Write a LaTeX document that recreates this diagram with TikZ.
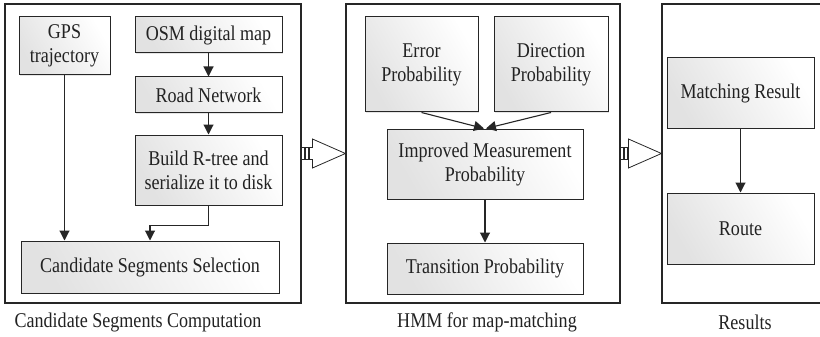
\documentclass[tikz,border=0pt]{standalone}
\usepackage{fontspec}
\setmainfont[FakeStretch=0.86]{Liberation Serif}
\usepackage{xcolor}
\definecolor{mmText}{HTML}{222222}
\definecolor{mmLine}{HTML}{262626}
\definecolor{mmShade}{HTML}{E2E2E2}
\usetikzlibrary{shapes,arrows.meta,positioning,shadows,calc}
\tikzset{
    panel/.style={
        draw=mmLine,
        fill=white,
        rectangle,
        line width=1.1pt,
        drop shadow={opacity=0.2, shadow xshift=1pt, shadow yshift=-1pt}
    },
    stage/.style={
        draw=mmLine,
        rectangle,
        top color=white,
        bottom color=mmShade,
        shading angle=-60,
        align=center,
        inner sep=0pt,
        line width=1pt,
        text=mmText,
        drop shadow={opacity=0.2, shadow xshift=1pt, shadow yshift=-1pt},
        font=\fontsize{21}{24}\selectfont
    },
    arrow/.style={
        -{Triangle[length=10pt,width=10pt]},
        line width=1.1pt,
        color=mmLine
    },
    stripe/.style={
        draw=mmLine,
        fill=white,
        line width=0.8pt
    },
    caption/.style={
        font=\fontsize{21}{24}\selectfont,
        text=mmText
    }
}
\begin{document}
\begin{tikzpicture}[x=1pt, y=-1pt]
    \useasboundingbox (0,0) rectangle (820,337);

    % Panels
    \node[panel, minimum width=296pt, minimum height=299pt] (seg) at (153,153.5) {};
    \node[panel, minimum width=274pt, minimum height=299pt] (hmm) at (483,153.5) {};
    \node[panel, minimum width=166pt, minimum height=299pt] (res) at (745,153.5) {};

    % Candidate segments computation
    \node[stage, minimum width=91pt, minimum height=58pt] (gps) at (64.5,46) {GPS\\trajectory};
    \node[stage, minimum width=147pt, minimum height=36pt] (osm) at (208.5,35) {OSM digital map};
    \node[stage, minimum width=147pt, minimum height=36pt, below=23pt of osm] (road) {Road Network};
    \node[stage, minimum width=147pt, minimum height=70pt, below=21pt of road] (rtree) {Build R-tree and\\serialize it to disk};
    \node[stage, minimum width=258pt, minimum height=52pt] (cand) at (150,267) {Candidate Segments Selection};

    % HMM
    \node[stage, minimum width=113pt, minimum height=95pt] (error) at (421.5,64.5) {Error\\Probability};
    \node[stage, minimum width=114pt, minimum height=95pt, right=15pt of error] (dir) {Direction\\Probability};
    \node[stage, minimum width=196pt, minimum height=70pt] (meas) at (485,164) {Improved Measurement\\Probability};
    \node[stage, minimum width=196pt, minimum height=51pt, below=43pt of meas] (trans) {Transition Probability};

    % Results
    \node[stage, minimum width=147pt, minimum height=70pt] (match) at (740.5,93) {Matching Result};
    \node[stage, minimum width=147pt, minimum height=71pt, below=64pt of match] (route) {Route};

    % Captions
    \node[caption] (segcap) at (138,322) {Candidate Segments Computation};
    \node[caption] (hmmcap) at (487,322) {HMM for map-matching};
    \node[caption] (rescap) at (745,322) {Results};

    % Arrows
    \draw[arrow] (osm) -- (road);
    \draw[arrow] (road) -- (rtree);
    \draw[arrow] (gps.south) -- (gps.south |- cand.north);
    \draw[arrow] (rtree.south) -- ++(0,20) -| (cand.north);
    \draw[arrow] (error.south) -- ([xshift=-1pt]meas.north);
    \draw[arrow] (dir.south) -- ([xshift=1pt]meas.north);
    \draw[arrow] (meas) -- (trans);
    \draw[arrow] (match) -- (route);

    % Block arrows between panels
    \foreach \a/\b in {seg/hmm, hmm/res} {
        \draw[stripe] ($(\a.east)+(0,-6)$) rectangle ++(3,12);
        \draw[stripe] ($(\a.east)+(4,-6)$) rectangle ++(3,12);
        \draw[stripe] ($(\a.east)+(8,-6)$) -- ($(\b.west)+(-33,-6)$) -- ($(\b.west)+(-33,-14.5)$)
            -- (\b.west) -- ($(\b.west)+(-33,14.5)$) -- ($(\b.west)+(-33,6)$) -- ($(\a.east)+(8,6)$) -- cycle;
    }
\end{tikzpicture}
\end{document}
